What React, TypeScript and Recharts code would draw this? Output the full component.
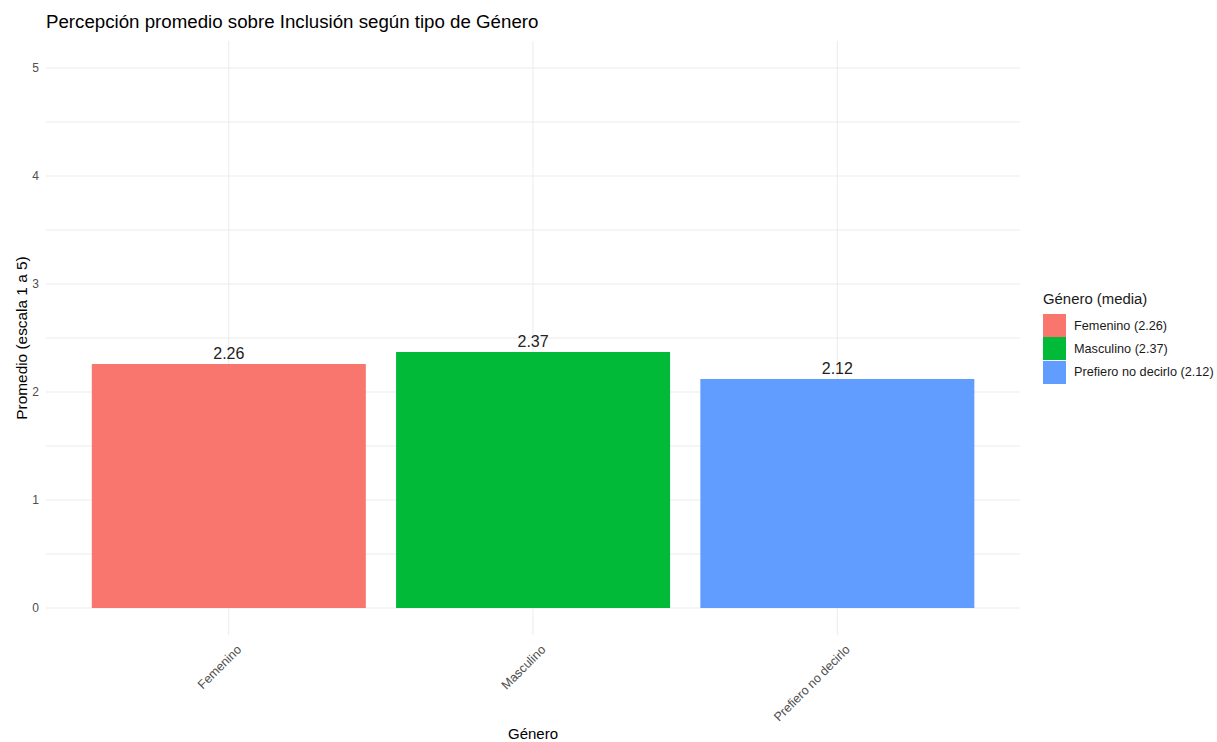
import React from 'react';
import { BarChart, Bar, XAxis, YAxis, CartesianGrid, Cell, LabelList } from 'recharts';

const categories = ['Femenino', 'Masculino', 'Prefiero no decirlo'];
const means = [2.26, 2.37, 2.12];
const colors = ['#F8766D', '#00BA38', '#619CFF'];
const yTicks = [0, 1, 2, 3, 4, 5];
const yGrid = [0, 0.5, 1, 1.5, 2, 2.5, 3, 3.5, 4, 4.5, 5];

const data = categories.map((c, i) => ({ genero: c, media: means[i] }));

const FONT = '"Liberation Sans", Arial, sans-serif';

const XTick = (props: any) => {
  const { x, y, payload } = props;
  const ax = x + 7;
  const ay = y + 1;
  return (
    <text
      x={ax}
      y={ay}
      dy="0.72em"
      textAnchor="end"
      transform={`rotate(-45, ${ax}, ${ay})`}
      fontSize={12.5}
      fill="#4d4d4d"
      fontFamily={FONT}
    >
      {payload.value}
    </text>
  );
};

export default function App() {
  return (
    <div style={{ position: 'absolute', left: 0, top: 0, width: 1217, height: 742, background: '#fff', fontFamily: FONT }}>
      <div style={{ position: 'absolute', left: 46, top: 11, fontSize: 18.7, color: '#000', whiteSpace: 'nowrap', lineHeight: '22px' }}>
        Percepción promedio sobre Inclusión según tipo de Género
      </div>
      <div style={{ position: 'absolute', left: 1043, top: 288, color: '#1a1a1a' }}>
        <div style={{ fontSize: 14.9, height: 26, lineHeight: '22px' }}>Género (media)</div>
        {categories.map((c, i) => (
          <div key={c} style={{ display: 'flex', alignItems: 'center', height: 23.3 }}>
            <div style={{ width: 23, height: 23, background: colors[i], marginRight: 8 }} />
            <span style={{ fontSize: 12.7, whiteSpace: 'nowrap' }}>{`${c} (${means[i].toFixed(2)})`}</span>
          </div>
        ))}
      </div>
      <BarChart
        width={1217}
        height={742}
        data={data}
        margin={{ top: 41, left: 0, right: 197, bottom: 0 }}
        barCategoryGap="5%"
      >
        <CartesianGrid stroke="#ebebeb" strokeWidth={1} horizontalValues={yGrid} syncWithTicks={true} />
        <XAxis
          dataKey="genero"
          height={107}
          padding={{ left: 30.6, right: 30.6 }}
          axisLine={false}
          tickLine={false}
          tick={<XTick />}
          interval={0}
          label={{ value: 'Género', position: 'insideBottom', offset: 3, fontSize: 15, fill: '#000', fontFamily: FONT }}
        />
        <YAxis
          type="number"
          domain={[-0.25, 5.25]}
          ticks={yTicks}
          width={46}
          axisLine={false}
          tickLine={false}
          tickSize={0}
          tickMargin={7}
          tick={{ fontSize: 12, fill: '#4d4d4d', fontFamily: FONT }}
          label={{ value: 'Promedio (escala 1 a 5)', angle: -90, position: 'insideLeft', offset: 22, fontSize: 15.4, fill: '#000', fontFamily: FONT, style: { textAnchor: 'middle' } }}
        />
        <Bar dataKey="media" isAnimationActive={false}>
          {data.map((d, i) => (
            <Cell key={d.genero} fill={colors[i]} />
          ))}
          <LabelList
            dataKey="media"
            position="top"
            offset={5}
            formatter={(v: any) => Number(v).toFixed(2)}
            style={{ fontSize: 16, fill: '#222', fontFamily: FONT }}
          />
        </Bar>
      </BarChart>
    </div>
  );
}
